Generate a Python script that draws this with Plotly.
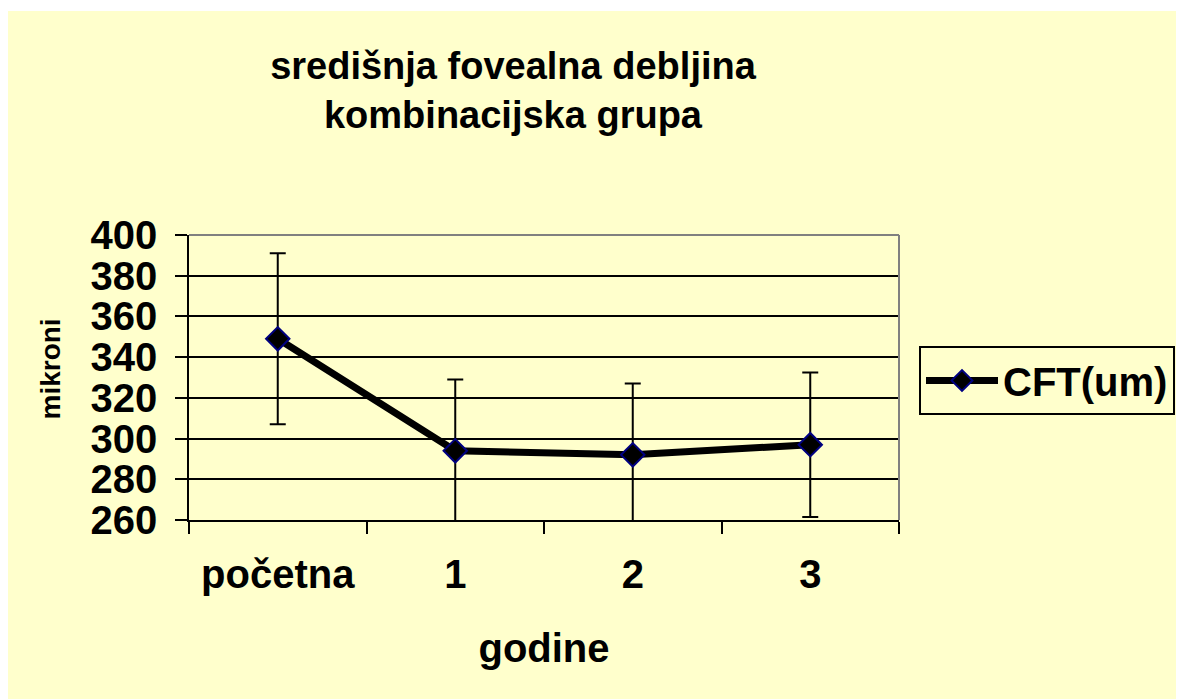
import plotly.graph_objects as go

# ---- data ----
categories = ["početna", "1", "2", "3"]
cft_values = [349, 294, 292, 297]
cft_errors = [42, 35, 35, 35.5]
series_name = "CFT(um)"
y_tick_values = [260, 280, 300, 320, 340, 360, 380, 400]

title_text = "središnja fovealna debljina<br>kombinacijska grupa"
x_title = "godine"
y_title = "mikroni"

# ---- layout geometry (figure px; page adds an 8px body margin) ----
W, H = 1184, 699
L, R, T, B = 181, 891, 227, 512
pw, ph = R - L, B - T

def px_x(x):
    return (x - L) / pw

def px_y(y):
    return (B - y) / ph

FONT = "Liberation Sans, Arial, sans-serif"
YELLOW = "#FFFFCC"

def bold(size, family=FONT):
    return dict(size=size, family=family, color="black", weight="bold")

fig = go.Figure()
fig.add_trace(go.Scatter(
    x=categories, y=cft_values, name=series_name, mode="lines+markers",
    line=dict(color="black", width=7),
    marker=dict(symbol="diamond", size=18, color="black",
                line=dict(color="#000080", width=2)),
    error_y=dict(type="data", array=cft_errors, visible=True,
                 color="black", thickness=2, width=8),
    cliponaxis=False,
))

fig.update_layout(
    width=W, height=H,
    margin=dict(l=L, r=W - R, t=T, b=H - B, pad=0),
    paper_bgcolor="white",
    plot_bgcolor="rgba(0,0,0,0)",
    font=dict(family=FONT, color="black"),
    title=dict(text=title_text, x=px_x(505), xref="paper",
               xanchor="center", y=1 - 71 / H, yanchor="top",
               font=bold(38)),
    showlegend=True,
    legend=dict(x=px_x(911), y=px_y(338), xanchor="left", yanchor="top",
                bgcolor=YELLOW, bordercolor="black", borderwidth=2,
                font=bold(40), itemwidth=72),
    xaxis=dict(
        type="category", range=[-0.5, 3.5],
        showgrid=False, showline=True, linecolor="black", linewidth=1.5,
        ticks="outside", ticklen=12, tickwidth=1.5, tickcolor="black",
        tickson="boundaries",
        tickfont=bold(40),
        ticklabelstandoff=18,
        title=dict(text=x_title, standoff=39, font=bold(40)),
    ),
    yaxis=dict(
        range=[260, 400], tickvals=y_tick_values,
        showgrid=True, gridcolor="black", gridwidth=1.5,
        showline=True, linecolor="black", linewidth=1.5,
        ticks="outside", ticklen=12, tickwidth=1.5, tickcolor="black",
        tickfont=bold(40),
        ticklabelstandoff=10,
        zeroline=False,
    ),
    annotations=[
        dict(text=y_title, xref="paper", yref="paper",
             x=px_x(42), y=px_y(361.5), xanchor="center", yanchor="middle",
             textangle=-90, showarrow=False, font=bold(28)),
    ],
    shapes=[
        dict(type="rect", xref="paper", yref="paper", layer="below",
             x0=px_x(0), x1=px_x(1200), y0=px_y(720), y1=px_y(3),
             fillcolor=YELLOW, line=dict(width=0)),
        dict(type="line", xref="paper", yref="paper", layer="above",
             x0=0, x1=1, y0=1, y1=1, line=dict(color="#808080", width=2)),
        dict(type="line", xref="paper", yref="paper", layer="above",
             x0=1, x1=1, y0=0, y1=1, line=dict(color="#808080", width=2)),
    ],
)

fig.write_html("out.html")
